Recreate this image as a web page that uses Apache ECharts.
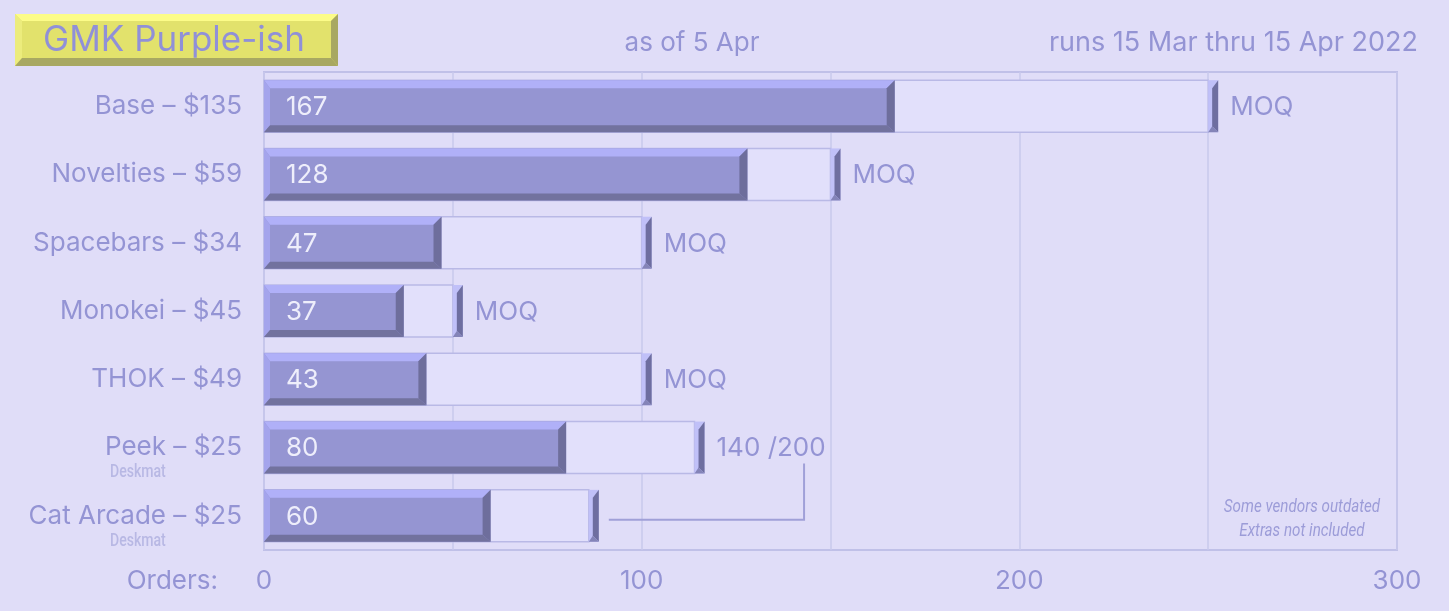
<!DOCTYPE html>
<html>
<head>
<meta charset="utf-8">
<script src="https://cdn.jsdelivr.net/npm/echarts@6/dist/echarts.min.js"></script>
<style>
  html, body { margin: 0; padding: 0; background: #e0ddf8; }
  #chart { width: 1449px; height: 611px; }
</style>
</head>
<body>
<div id="chart"></div>
<script>
// data
const categories = ['Base – $135', 'Novelties – $59', 'Spacebars – $34', 'Monokei – $45', 'THOK – $49', 'Peek – $25', 'Cat Arcade – $25'];
const subLabels = ['', '', '', '', '', 'Deskmat', 'Deskmat'];
const orders = [167, 128, 47, 37, 43, 80, 60];
const moq = [250, 150, 100, 50, 100, 114, 86];
const endLabels = ['MOQ', 'MOQ', 'MOQ', 'MOQ', 'MOQ', '140 /200', ''];
const connectorTo = [null, null, null, null, null, null, 143];
const xTicks = [0, 100, 200, 300];

const FONT = 'Inter';
const NARROW = 'Roboto';
const TXT = '#9494d4';

const chart = echarts.init(document.getElementById('chart'));

function renderBar(params, api) {
  const i = api.value(0);
  const yc = api.coord([0, i])[1];
  const band = api.size([0, 1])[1];
  const x0 = api.coord([0, i])[0];
  const x1 = api.coord([api.value(1), i])[0];
  const xm = api.coord([api.value(2), i])[0];
  const top = yc - 26, bot = yc + 26;
  const kids = [];
  // MOQ outline
  kids.push({ type: 'rect', shape: { x: x0, y: top, width: xm - x0, height: bot - top },
    style: { fill: '#e2e0fb', stroke: '#b9b9e6', lineWidth: 1.5 } });
  // bar body with bevels
  kids.push({ type: 'rect', shape: { x: x0, y: top, width: x1 - x0, height: bot - top }, style: { fill: '#9595d2' } });
  kids.push({ type: 'polygon', shape: { points: [[x0, top], [x1, top], [x1 - 8, top + 8], [x0 + 6, top + 8]] }, style: { fill: '#b0b0f8' } });
  kids.push({ type: 'polygon', shape: { points: [[x0, top], [x0 + 6, top + 8], [x0 + 6, bot - 7], [x0, bot]] }, style: { fill: '#a4a4ec' } });
  kids.push({ type: 'polygon', shape: { points: [[x0, bot], [x1, bot], [x1 - 8, bot - 7], [x0 + 6, bot - 7]] }, style: { fill: '#72729e' } });
  kids.push({ type: 'polygon', shape: { points: [[x1, top], [x1 - 8, top + 8], [x1 - 8, bot - 7], [x1, bot]] }, style: { fill: '#6e6e9c' } });
  // cap at MOQ end
  kids.push({ type: 'rect', shape: { x: xm, y: top, width: 10, height: bot - top }, style: { fill: '#c0c0f8' } });
  kids.push({ type: 'polygon', shape: { points: [[xm + 10, top], [xm + 10, bot], [xm + 4, bot - 6], [xm + 4, top + 8]] }, style: { fill: '#6e6ea0' } });
  kids.push({ type: 'polygon', shape: { points: [[xm, bot], [xm + 10, bot], [xm + 4, bot - 6]] }, style: { fill: '#8484b8' } });
  // value label
  kids.push({ type: 'text', x: x0 + 22, y: yc + 1,
    style: { text: String(api.value(1)), fill: '#eeeefb', font: '26px ' + FONT, verticalAlign: 'middle', align: 'left' } });
  const lbl = endLabels[i];
  if (lbl) {
    kids.push({ type: 'text', x: xm + 22, y: yc + 1,
      style: { text: lbl, fill: TXT, font: '26px ' + FONT, verticalAlign: 'middle', align: 'left' } });
  }
  if (subLabels[i]) {
    kids.push({ type: 'text', x: x0 - 154, y: yc + 25, scaleX: 0.74,
      style: { text: subLabels[i], fill: '#b8b8e4', font: '500 19px ' + NARROW, verticalAlign: 'middle', align: 'left' } });
  }
  if (connectorTo[i] != null) {
    const xc = api.coord([connectorTo[i], i])[0];
    kids.push({ type: 'polyline', shape: { points: [[xm + 20, yc + 4], [xc, yc + 4], [xc, yc - band + 16]] },
      style: { stroke: '#a0a0d8', lineWidth: 2, fill: null } });
  }
  return { type: 'group', children: kids };
}

const option = {
  backgroundColor: '#e0ddf8',
  animation: false,
  grid: { left: 264, right: 52, top: 72, bottom: 61, show: true, borderColor: '#c0c0e8', borderWidth: 2, backgroundColor: 'transparent' },
  xAxis: {
    type: 'value', min: 0, max: 300, interval: 50,
    axisLine: { show: false }, axisTick: { show: false },
    splitLine: { lineStyle: { color: '#c8c8ec', width: 1.5 } },
    axisLabel: {
      margin: 18, color: TXT, fontFamily: FONT, fontSize: 26,
      formatter: v => (xTicks.indexOf(v) >= 0 ? String(v) : '')
    }
  },
  yAxis: {
    type: 'category', inverse: true, data: categories,
    axisLine: { show: false }, axisTick: { show: false },
    axisLabel: { margin: 22, color: TXT, fontFamily: FONT, fontSize: 26 }
  },
  series: [{
    type: 'custom',
    renderItem: renderBar,
    clip: false,
    encode: { x: [1, 2], y: 0 },
    data: categories.map((c, i) => [i, orders[i], moq[i]])
  }],
  graphic: [
    { type: 'polygon', shape: { points: [[15, 14], [338, 14], [338, 66], [15, 66]] }, style: { fill: '#e2e26c' } },
    { type: 'polygon', shape: { points: [[15, 14], [338, 14], [331, 21], [22, 21]] }, style: { fill: '#fcfc88' } },
    { type: 'polygon', shape: { points: [[15, 14], [22, 21], [22, 58], [15, 66]] }, style: { fill: '#ecec7c' } },
    { type: 'polygon', shape: { points: [[15, 66], [338, 66], [331, 58], [22, 58]] }, style: { fill: '#a8a862' } },
    { type: 'polygon', shape: { points: [[338, 14], [331, 21], [331, 58], [338, 66]] }, style: { fill: '#a8a862' } },
    { type: 'text', x: 174, y: 40, style: { text: 'GMK Purple-ish', fill: '#9090d8', font: '35px ' + FONT, align: 'center', verticalAlign: 'middle' } },
    { type: 'text', x: 692, y: 43, style: { text: 'as of 5 Apr', fill: TXT, font: '26px ' + FONT, align: 'center', verticalAlign: 'middle' } },
    { type: 'text', x: 1418, y: 43, style: { text: 'runs 15 Mar thru 15 Apr 2022', fill: TXT, font: '27px ' + FONT, align: 'right', verticalAlign: 'middle' } },
    { type: 'text', x: 218, y: 581, style: { text: 'Orders:', fill: TXT, font: '26px ' + FONT, align: 'right', verticalAlign: 'middle' } },
    { type: 'text', x: 1302, y: 507, scaleX: 0.8, style: { text: 'Some vendors outdated', fill: '#9c9cd8', font: 'italic 19px ' + NARROW, align: 'center', verticalAlign: 'middle' } },
    { type: 'text', x: 1302, y: 531, scaleX: 0.8, style: { text: 'Extras not included', fill: '#9c9cd8', font: 'italic 19px ' + NARROW, align: 'center', verticalAlign: 'middle' } }
  ]
};

chart.setOption(option);
</script>
</body>
</html>
